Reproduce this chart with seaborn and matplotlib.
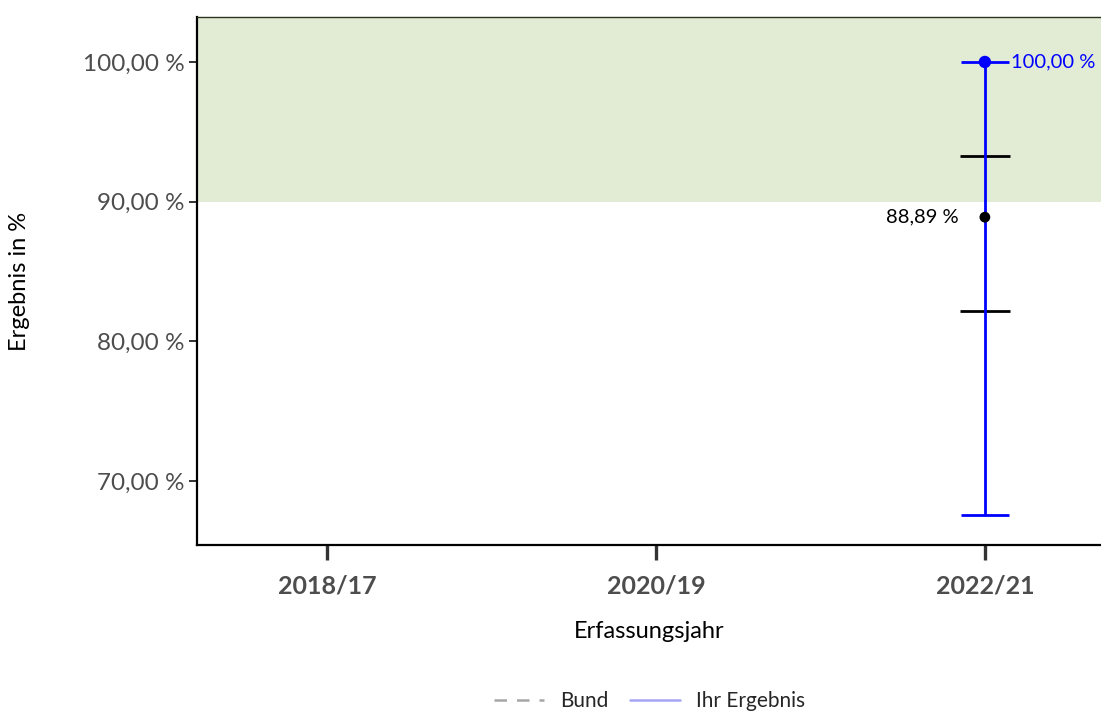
import numpy as np
import pandas as pd
import matplotlib
matplotlib.use("Agg")
import matplotlib.pyplot as plt
from matplotlib.lines import Line2D
import seaborn as sns

# data
jahre = ["2018/17", "2020/19", "2022/21"]
ihr_jahr = ["2022/21"]
ihr_wert = [100.0]
ihr_ci_unten = [67.57]
ihr_ci_oben = [100.0]
bund_jahr = ["2022/21"]
bund_wert = [88.89]
bund_ci_unten = [82.2]
bund_ci_oben = [93.3]
referenzbereich = [90.0, 103.3]
y_ticks = [70, 80, 90, 100]

sns.set_theme(style="white")
plt.rcParams["font.family"] = ["Lato", "DejaVu Sans"]

fig = plt.figure(figsize=(11.01, 7.17), dpi=100)
ax = fig.add_axes([197 / 1101, 1 - 545 / 717, 1 - 197 / 1101, (545 - 17) / 717])

pos = {j: i for i, j in enumerate(jahre)}
df_ihr = pd.DataFrame({"x": [pos[j] for j in ihr_jahr], "y": ihr_wert,
                       "lo": ihr_ci_unten, "hi": ihr_ci_oben})
df_bund = pd.DataFrame({"x": [pos[j] for j in bund_jahr], "y": bund_wert,
                        "lo": bund_ci_unten, "hi": bund_ci_oben})

ax.axhspan(referenzbereich[0], referenzbereich[1], color="#e2ecd4", zorder=0, lw=0)

# Bund: black caps only + point
ax.hlines(df_bund["lo"], df_bund["x"] - 0.075, df_bund["x"] + 0.075, color="black", lw=2.0, zorder=3)
ax.hlines(df_bund["hi"], df_bund["x"] - 0.075, df_bund["x"] + 0.075, color="black", lw=2.0, zorder=3)

# Ihr Ergebnis: blue error bar
ax.errorbar(df_ihr["x"], df_ihr["y"],
            yerr=[df_ihr["y"] - df_ihr["lo"], df_ihr["hi"] - df_ihr["y"]],
            fmt="none", ecolor="#0000ff", elinewidth=2.0, capsize=17.5, capthick=2.0, zorder=4)

sns.scatterplot(data=df_bund, x="x", y="y", color="black", s=60, edgecolor="none", ax=ax, zorder=5)
sns.scatterplot(data=df_ihr, x="x", y="y", color="#0000ff", s=80, edgecolor="none", ax=ax, zorder=6)

for _, r in df_ihr.iterrows():
    ax.text(r["x"] + 0.08, r["y"], f"{r['y']:.2f} %".replace(".", ","),
            color="#0000ff", fontsize=14.5, va="center", ha="left", zorder=7)
for _, r in df_bund.iterrows():
    ax.text(r["x"] - 0.08, r["y"], f"{r['y']:.2f} %".replace(".", ","),
            color="black", fontsize=14.5, va="center", ha="right", zorder=7)

ax.set_xlim(-0.395, 2.353)
ax.set_ylim(65.42, 103.22)
ax.set_xticks(range(len(jahre)))
ax.set_xticklabels(jahre, fontweight="bold", color="#4d4d4d", fontsize=18)
ax.set_yticks(y_ticks)
ax.set_yticklabels([f"{v:.2f} %".replace(".", ",") for v in y_ticks], color="#4d4d4d", fontsize=17.5)
ax.tick_params(axis="x", length=11, width=2.4, color="#333333", pad=10, bottom=True)
ax.tick_params(axis="y", length=6, width=1.4, color="#333333", pad=3, left=True)

ax.set_xlabel("Erfassungsjahr", fontsize=17, color="black", labelpad=17)
ax.set_ylabel("Ergebnis in %", fontsize=17, color="black", labelpad=38)

for s in ["left", "bottom"]:
    ax.spines[s].set_color("black")
    ax.spines[s].set_linewidth(1.6)
ax.spines["top"].set_color("#2b3320")
ax.spines["top"].set_linewidth(1.0)
ax.spines["right"].set_visible(False)

handles = [Line2D([0], [0], color="#a6a6a6", lw=1.8, ls=(0, (5, 4))),
           Line2D([0], [0], color="#a5a5f5", lw=1.8)]
fig.legend(handles, ["Bund", "Ihr Ergebnis"], loc="lower center", ncol=2, frameon=False,
           fontsize=15, bbox_to_anchor=(0.59, -0.018), handlelength=2.4,
           columnspacing=1.0, handletextpad=0.8)

fig.savefig("out.png", dpi=100)
